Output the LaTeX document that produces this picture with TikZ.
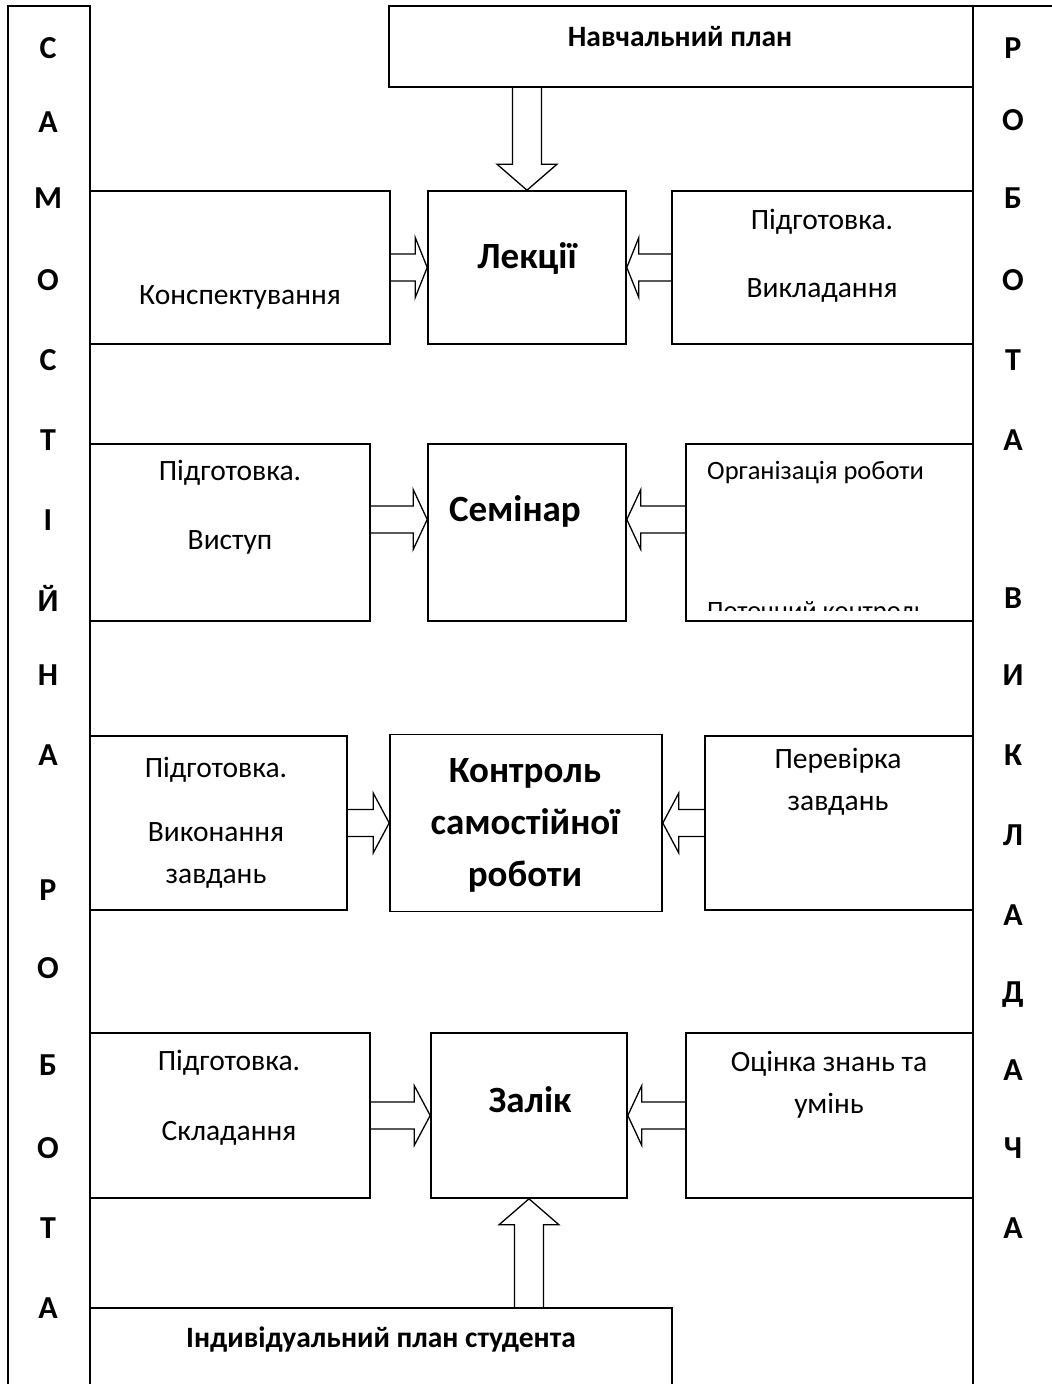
\documentclass[tikz,border=0pt]{standalone}
\usepackage{fontspec}
\setmainfont{Carlito}
\usetikzlibrary{calc,positioning}
\tikzset{rec/.style={rectangle,draw,line width=1.6pt,inner sep=0pt}}
\tikzset{txt/.style={font=\fontsize{29.5}{42}\selectfont,align=center,inner sep=0pt}}
\tikzset{big/.style={font=\fontsize{37}{52}\selectfont\bfseries,align=center,inner sep=0pt}}
\tikzset{ttl/.style={font=\fontsize{29.5}{34}\selectfont\bfseries,inner sep=0pt}}
\tikzset{ltr/.style={font=\fontsize{32}{36}\selectfont\bfseries,inner sep=0pt}}
\tikzset{blk/.style={draw,line width=1.3pt,line join=miter}}
% hollow block arrow: from, to, shaft half width, head length
\newcommand{\blockarrow}[4]{%
  \path ($(#2)!#4!(#1)$) coordinate (hb);
  \draw[blk] ($(#1)!#3!-90:(#2)$) -- ($(hb)!#3!-90:(#2)$) -- ($(hb)!30pt!-90:(#2)$) -- (#2)
    -- ($(hb)!30pt!90:(#2)$) -- ($(hb)!#3!90:(#2)$) -- ($(#1)!#3!90:(#2)$);}

\begin{document}
\begin{tikzpicture}[x=1pt,y=-1pt]
        \useasboundingbox (0,0) rectangle (1052,1384);
        % side columns
        \node[rec, minimum width=82pt, minimum height=1420pt] (samcol) at (49,716) {};
        \node[rec, minimum width=140pt, minimum height=1420pt] (vykcol) at (1043,716) {};
        \foreach \l/\y [count=\i] in {С/48,А/122,М/198,О/280,С/360,Т/440,І/520,Й/598,Н/675,А/755,Р/890,О/968,Б/1065,О/1148,Т/1228,А/1308}
            \node[ltr] (sam\i) at (48,\y) {\l};
        \foreach \l/\y [count=\i] in {Р/48,О/120,Б/198,О/280,Т/360,А/440,В/598,И/675,К/755,Л/835,А/915,Д/995,А/1070,Ч/1148,А/1228}
            \node[ltr] (vyk\i) at (1013,\y) {\l};

        % boxes
        \node[rec, minimum width=584pt, minimum height=81pt] (plan) at (681,46.5) {};
        \node[rec, minimum width=300pt, minimum height=153pt] (konsp) at (240,267.5) {};
        \node[rec, minimum width=198pt, minimum height=153pt] (lek) at (527,267.5) {};
        \node[rec, minimum width=301pt, minimum height=153pt] (vykl) at (822.5,267.5) {};
        \node[rec, minimum width=280pt, minimum height=177pt] (vystup) at (230,532.5) {};
        \node[rec, minimum width=198pt, minimum height=177pt] (sem) at (527,532.5) {};
        \node[rec, minimum width=287pt, minimum height=177pt] (org) at (829.5,532.5) {};
        \node[rec, minimum width=257pt, minimum height=174pt] (vykon) at (218.5,823) {};
        \node[rec, minimum width=272pt, minimum height=177pt] (kontr) at (526,823) {};
        \node[rec, minimum width=268pt, minimum height=174pt] (perev) at (839,823) {};
        \node[rec, minimum width=280pt, minimum height=165pt] (sklad) at (230,1115.5) {};
        \node[rec, minimum width=196pt, minimum height=165pt] (zalik) at (529,1115.5) {};
        \node[rec, minimum width=287pt, minimum height=165pt] (ocinka) at (829.5,1115.5) {};
        \node[rec, minimum width=582pt, minimum height=120pt] (indiv) at (381,1368) {};

        % texts
        \node[ttl] (plan-t) at (680,37) {Навчальний план};
        \node[txt] (konsp-t) at (240,297) {Конспектування};
        \node[big] (lek-t) at (527,258) {Лекції};
        \node[txt] (vykl-t) at (822,256) {Підготовка.\\[26pt]Викладання};
        \node[txt] (vystup-t) at (230,507.5) {Підготовка.\\[27pt]Виступ};
        \node[big] (sem-t) at (515,511) {Семінар};
        \node[txt, font=\fontsize{26.5}{32}\selectfont, anchor=west] (org-t) at (707,473) {Організація роботи};
        \begin{scope}
            \clip (org.north west) rectangle ([yshift=11pt]org.south east);
            \node[txt, font=\fontsize{26.5}{32}\selectfont, anchor=west] (org-t2) at (707,613) {Поточний контроль};
        \end{scope}
        \node[txt] (vykon-t) at (216,823) {Підготовка.\\[22pt]Виконання\\завдань};
        \node[big] (kontr-t) at (525,825) {Контроль\\самостійної\\роботи};
        \node[txt] (perev-t) at (838,782) {Перевірка\\завдань};
        \node[txt] (sklad-t) at (229,1098) {Підготовка.\\[28pt]Складання};
        \node[big] (zalik-t) at (530,1100) {Залік};
        \node[txt] (ocinka-t) at (829,1085) {Оцінка знань та\\умінь};
        \node[ttl] (indiv-t) at (381,1340) {Індивідуальний план студента};

        % arrows
        \coordinate (pl-s) at (lek.north |- plan.south);
        \coordinate (in-n) at (zalik.south |- indiv.north);
        \coordinate (vs-e) at ([yshift=13pt]vystup.east);
        \coordinate (sem-w) at ([yshift=13pt]sem.west);
        \coordinate (sem-e) at ([yshift=13pt]sem.east);
        \coordinate (org-w) at ([yshift=13pt]org.west);
        \blockarrow{pl-s}{lek.north}{14.5pt}{26pt}
        \blockarrow{konsp.east}{lek.west}{13.5pt}{12pt}
        \blockarrow{vykl.west}{lek.east}{13.5pt}{12pt}
        \blockarrow{vs-e}{sem-w}{13.5pt}{14pt}
        \blockarrow{org-w}{sem-e}{13.5pt}{14pt}
        \blockarrow{vykon.east}{kontr.west}{13.5pt}{16pt}
        \blockarrow{perev.west}{kontr.east}{13.5pt}{16pt}
        \blockarrow{sklad.east}{zalik.west}{13.5pt}{16pt}
        \blockarrow{ocinka.west}{zalik.east}{13.5pt}{14pt}
        \blockarrow{in-n}{zalik.south}{14.5pt}{26pt}

    \end{tikzpicture}
\end{document}
